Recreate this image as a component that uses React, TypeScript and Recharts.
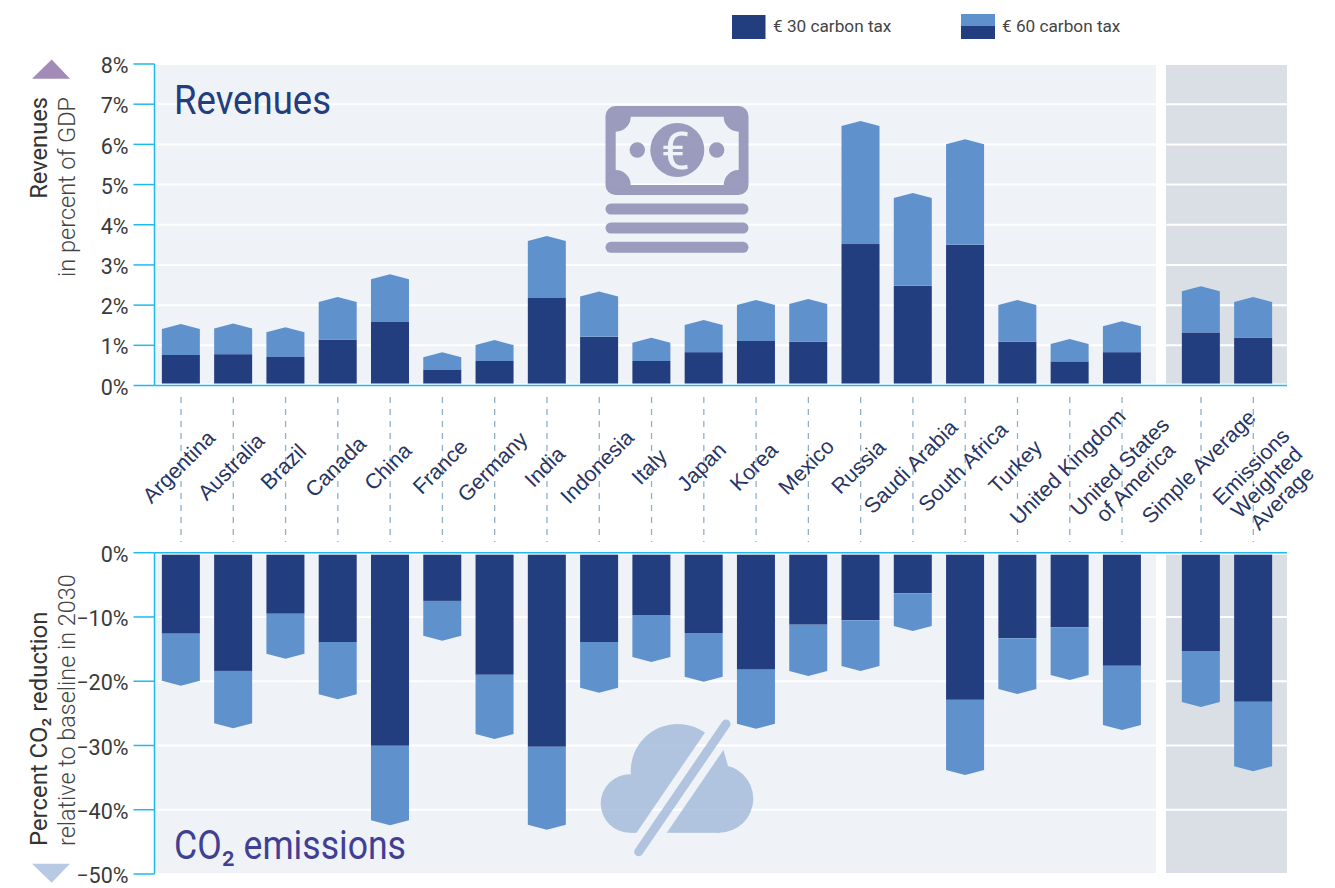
import {
  BarChart,
  Bar,
  XAxis,
  YAxis,
  CartesianGrid,
  ReferenceArea,
} from "recharts";

const countries = [
  "Argentina", "Australia", "Brazil", "Canada", "China", "France", "Germany",
  "India", "Indonesia", "Italy", "Japan", "Korea", "Mexico", "Russia",
  "Saudi Arabia", "South Africa", "Turkey", "United Kingdom",
  "United States\nof America", "Simple Average", "Emissions\nWeighted\nAverage",
];
// slot on the x axis, the two averages sit a bit apart
const slots = [0, 1, 2, 3, 4, 5, 6, 7, 8, 9, 10, 11, 12, 13, 14, 15, 16, 17, 18, 19.51, 20.51];

const revenue30 = [0.76, 0.78, 0.71, 1.14, 1.58, 0.4, 0.61, 2.18, 1.21, 0.61, 0.83, 1.11, 1.09, 3.52, 2.48, 3.5, 1.09, 0.6, 0.83, 1.32, 1.19];
const revenue60 = [1.53, 1.54, 1.45, 2.2, 2.77, 0.83, 1.13, 3.72, 2.34, 1.19, 1.63, 2.13, 2.15, 6.58, 4.79, 6.13, 2.13, 1.16, 1.6, 2.47, 2.2];
const co2at30 = [-12.6, -18.4, -9.5, -13.9, -30.05, -7.5, -19, -30.2, -13.9, -9.7, -12.5, -18.2, -11.2, -10.5, -6.3, -22.9, -13.3, -11.6, -17.6, -15.3, -23.2];
const co2at60 = [-20.7, -27.3, -16.5, -22.8, -42.4, -13.7, -29, -43.1, -21.8, -17, -20.1, -27.4, -19.2, -18.4, -12.2, -34.6, -22, -19.8, -27.6, -24, -34];

const revenueTicks = [0, 1, 2, 3, 4, 5, 6, 7, 8];
const co2Ticks = [0, -10, -20, -30, -40, -50];
const xDomain = [-0.507, 21.155];

const DARK = "#223e7e";
const LIGHT = "#5f92cd";
const CYAN = "#1fb9f0";
const PLOT_BG = "#eff2f6";
const AVG_BG = "#d9dfe5";
const FONT = "Roboto, sans-serif";
const AXIS_GAP = 2;
const TIP = 5;

const revenueData = countries.map((name, i) => ({
  name,
  slot: slots[i],
  base: revenue30[i],
  extra: +(revenue60[i] - revenue30[i]).toFixed(2),
}));
const co2Data = countries.map((name, i) => ({
  name,
  slot: slots[i],
  base: co2at30[i],
  extra: +(co2at60[i] - co2at30[i]).toFixed(2),
}));

function edges({ y, height }: any) {
  return { top: Math.min(y, y + height), bottom: Math.max(y, y + height) };
}

// the dark part stops just short of the axis line
function BaseBar(props: any) {
  const { x, width, down } = props;
  const { top, bottom } = edges(props);
  const y0 = down ? top + AXIS_GAP : top;
  const y1 = down ? bottom : bottom - AXIS_GAP;
  return <rect x={x} y={y0} width={width} height={y1 - y0} fill={DARK} />;
}

// the light part ends in a flat arrow tip
function TipBar(props: any) {
  const { x, width, down } = props;
  const { top, bottom } = edges(props);
  const r = x + width;
  const mid = x + width / 2;
  const d = down
    ? `M${x} ${top}L${r} ${top}L${r} ${bottom - TIP}L${mid} ${bottom}L${x} ${bottom - TIP}Z`
    : `M${x} ${bottom}L${r} ${bottom}L${r} ${top + TIP}L${mid} ${top}L${x} ${top + TIP}Z`;
  return <path d={d} fill={LIGHT} />;
}

function CountryTick({ x, payload }: any) {
  const i = slots.indexOf(payload.value);
  const lines = countries[i].split("\n");
  return (
    <g>
      <line x1={x} x2={x} y1={397} y2={542} stroke="#8fb0c6" strokeWidth={1.3} strokeDasharray="6 6" />
      <text
        transform={`translate(${x - 2} 467) rotate(-45)`}
        textAnchor="middle"
        fontFamily="'Liberation Sans', Arial, sans-serif"
        fontSize={21.5}
        fill="#283461"
      >
        {lines.map((line, n) => (
          <tspan key={n} x={0} y={7 + n * 22}>
            {line}
          </tspan>
        ))}
      </text>
    </g>
  );
}

const tickStyle = { fill: "#3a3a3a", fontSize: 21.5, fontFamily: FONT, dy: 1.5 };
const pct = (v: number) => `${String(v).replace("-", "\u2212")}%`;

function Overlay() {
  const titleFont = { fontFamily: FONT, fontWeight: 400 };
  return (
    <svg width={1335} height={888} style={{ position: "absolute", left: 0, top: 0, pointerEvents: "none" }}>
      {/* legend */}
      <rect x={732} y={15} width={33.5} height={24} fill={DARK} />
      <text x={773} y={32} fontFamily={FONT} fontSize={17.2} fill="#444">€ 30 carbon tax</text>
      <rect x={961} y={14} width={34} height={12} fill={LIGHT} />
      <rect x={961} y={26} width={34} height={13} fill={DARK} />
      <text x={1002} y={32} fontFamily={FONT} fontSize={17.2} fill="#444">€ 60 carbon tax</text>

      {/* axis titles */}
      <polygon points="51.7,59.5 70,78.7 32,78.7" fill="#a38bb7" />
      <polygon points="32,863.7 70,863.7 51.7,882.7" fill="#b8c9e6" />
      <text transform="translate(46.5 97) rotate(-90)" textAnchor="end" fontFamily={FONT} fontSize={23.7} fill="#333">Revenues</text>
      <text transform="translate(75 97) rotate(-90)" textAnchor="end" fontFamily={FONT} fontWeight={300} fontSize={23.5} fill="#444">in percent of GDP</text>
      <text transform="translate(46.5 846) rotate(-90)" fontFamily={FONT} fontSize={23.9} fill="#333">Percent CO₂ reduction</text>
      <text transform="translate(75 846) rotate(-90)" fontFamily={FONT} fontWeight={300} fontSize={23.4} fill="#444">relative to baseline in 2030</text>

      {/* panel titles, the original face is condensed */}
      <text x={174} y={114} fontSize={41} fill={DARK} textLength={157} lengthAdjust="spacingAndGlyphs" {...titleFont}>Revenues</text>
      <text x={174} y={859} fontSize={41} fill="#413f93" textLength={232} lengthAdjust="spacingAndGlyphs" {...titleFont}>CO₂ emissions</text>

      {/* bank note */}
      <g fill="#8f90b6" opacity={0.88}>
        <path
          fillRule="evenodd"
          d="M615.5 106H738.5A10 10 0 0 1 748.5 116V185A10 10 0 0 1 738.5 195H615.5A10 10 0 0 1 605.5 185V116A10 10 0 0 1 615.5 106Z
             M630.7 116.7L723.7 116.7A15 15 0 0 0 738.7 131.7L738.7 170A15 15 0 0 0 723.7 185L630.7 185A15 15 0 0 0 615.7 170L615.7 131.7A15 15 0 0 0 630.7 116.7Z"
        />
        <circle cx={677.3} cy={150} r={27} />
        <circle cx={637.3} cy={150} r={7.7} />
        <circle cx={716.7} cy={150} r={7.7} />
        <rect x={605.5} y={203.5} width={143} height={11} rx={5.5} />
        <rect x={605.5} y={222.5} width={143} height={11} rx={5.5} />
        <rect x={605.5} y={241.8} width={143} height={11} rx={5.5} />
      </g>
      <text x={675.5} y={169} textAnchor="middle" fontFamily={FONT} fontSize={52} fill={PLOT_BG}>€</text>

      {/* cloud with a slash through it */}
      <mask id="slash" maskUnits="userSpaceOnUse" x={590} y={710} width={180} height={160}>
        <rect x={590} y={710} width={180} height={160} fill="#fff" />
        <line x1={638.7} y1={851.7} x2={726} y2={724} stroke="#000" strokeWidth={25} />
      </mask>
      <g fill="#a7bddc" opacity={0.85}>
        <g mask="url(#slash)">
          <circle cx={630} cy={803.5} r={29.3} />
          <circle cx={677.7} cy={771} r={47} />
          <circle cx={719.3} cy={798.7} r={34} />
          <polygon points="690,800 722,745 728,766" />
          <rect x={630} y={780} width={90} height={52.8} />
        </g>
        <line x1={638.7} y1={851.7} x2={726} y2={724} stroke="#a7bddc" strokeWidth={9} strokeLinecap="round" />
      </g>
    </svg>
  );
}

export default function App() {
  return (
    <div style={{ position: "absolute", left: 0, top: 0, width: 1335, height: 888, overflow: "hidden", background: "#fff" }}>
      <div style={{ position: "absolute", left: 0, top: 0 }}>
        <BarChart
          width={1335}
          height={545}
          data={revenueData}
          margin={{ top: 64, right: 48, bottom: 0, left: 0 }}
        >
          <ReferenceArea zIndex={-200} x1={xDomain[0]} x2={18.65} y1={0.05} y2={8} fill={PLOT_BG} fillOpacity={1} stroke="none" />
          <ReferenceArea zIndex={-200} x1={18.84} x2={xDomain[1]} y1={0.05} y2={8} fill={AVG_BG} fillOpacity={1} stroke="none" />
          <CartesianGrid vertical={false} stroke="#fff" strokeWidth={2} />
          <XAxis
            dataKey="slot"
            type="number"
            domain={xDomain}
            ticks={slots}
            interval={0}
            height={159.5}
            tickLine={false}
            axisLine={{ stroke: CYAN, strokeWidth: 1.5 }}
            tick={<CountryTick />}
          />
          <YAxis
            type="number"
            domain={[0, 8]}
            ticks={revenueTicks}
            interval={0}
            width={154.5}
            tickSize={21}
            tickMargin={5}
            tick={tickStyle}
            tickLine={{ stroke: CYAN, strokeWidth: 1.5 }}
            axisLine={{ stroke: CYAN, strokeWidth: 1.5 }}
            tickFormatter={pct}
          />
          <Bar dataKey="base" stackId="tax" barSize={38} isAnimationActive={false} shape={(p: any) => <BaseBar {...p} />} />
          <Bar dataKey="extra" stackId="tax" barSize={38} isAnimationActive={false} shape={(p: any) => <TipBar {...p} />} />
        </BarChart>
      </div>

      <div style={{ position: "absolute", left: 0, top: 530 }}>
        <BarChart
          width={1335}
          height={358}
          data={co2Data}
          margin={{ top: 21.7, right: 48, bottom: 14, left: 0 }}
        >
          <ReferenceArea zIndex={-200} x1={xDomain[0]} x2={18.65} y1={-50} y2={-0.3} fill={PLOT_BG} fillOpacity={1} stroke="none" />
          <ReferenceArea zIndex={-200} x1={18.84} x2={xDomain[1]} y1={-50} y2={-0.3} fill={AVG_BG} fillOpacity={1} stroke="none" />
          <CartesianGrid vertical={false} stroke="#fff" strokeWidth={2} />
          <XAxis
            dataKey="slot"
            type="number"
            orientation="top"
            domain={xDomain}
            ticks={slots}
            height={1}
            tick={false}
            tickLine={false}
            axisLine={{ stroke: CYAN, strokeWidth: 1.5 }}
          />
          <YAxis
            type="number"
            domain={[-50, 0]}
            ticks={co2Ticks}
            interval={0}
            width={154.5}
            tickSize={21}
            tickMargin={5}
            tick={tickStyle}
            tickLine={{ stroke: CYAN, strokeWidth: 1.5 }}
            axisLine={{ stroke: CYAN, strokeWidth: 1.5 }}
            tickFormatter={pct}
          />
          <Bar dataKey="base" stackId="tax" barSize={38} isAnimationActive={false} shape={(p: any) => <BaseBar {...p} down />} />
          <Bar dataKey="extra" stackId="tax" barSize={38} isAnimationActive={false} shape={(p: any) => <TipBar {...p} down />} />
        </BarChart>
      </div>

      <Overlay />
    </div>
  );
}
